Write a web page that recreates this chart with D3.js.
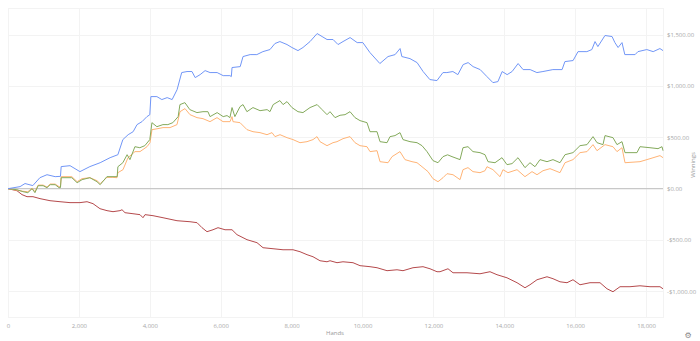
<!DOCTYPE html>
<html>
<head>
<meta charset="utf-8">
<script src="https://cdn.jsdelivr.net/npm/d3@7"></script>
<style>
  body { margin: 0; background: #fff; }
  svg { display: block; font-family: "Open Sans", "Noto Sans", sans-serif; }
</style>
</head>
<body>
<div id="chart"></div>
<script>
var width = 700,
    height = 341;

// hands played -> cumulative winnings ($)
var allIn = [
  [0,0],[340,20],[480,50],[700,30],[900,107],[1100,136],[1330,117],[1480,120],[1500,215],[1750,224],
  [2030,166],[2310,215],[2600,253],[2880,302],[3100,331],[3240,478],[3390,526],[3530,555],[3640,624],
  [3780,653],[3920,702],[4000,720],[4030,897],[4200,897],[4340,868],[4490,887],[4630,868],[4770,965],
  [4900,1131],[5050,1141],[5190,1141],[5280,1082],[5420,1111],[5560,1150],[5700,1131],[5900,1131],
  [6070,1101],[6260,1101],[6300,1092],[6320,1180],[6550,1189],[6630,1287],[6830,1306],[7020,1306],
  [7190,1335],[7390,1355],[7530,1414],[7670,1433],[7870,1404],[8010,1375],[8180,1345],[8320,1375],
  [8520,1433],[8720,1511],[8860,1482],[9000,1453],[9170,1453],[9310,1404],[9450,1433],[9650,1472],
  [9850,1423],[10010,1423],[10210,1326],[10490,1219],[10720,1287],[10920,1306],[11060,1365],[11110,1287],
  [11340,1267],[11540,1228],[11710,1141],[11900,1063],[12100,1053],[12270,1131],[12380,1131],[12550,1141],
  [12690,1111],[12840,1209],[12980,1228],[13120,1189],[13320,1160],[13510,1092],[13680,1033],[13820,1043],
  [13940,1141],[14080,1111],[14220,1141],[14390,1219],[14530,1160],[14730,1160],[14920,1131],[15090,1141],
  [15370,1160],[15630,1160],[15710,1238],[15940,1248],[16080,1335],[16330,1335],[16470,1355],[16560,1433],
  [16640,1384],[16840,1492],[17040,1482],[17120,1423],[17210,1375],[17320,1423],[17400,1306],[17690,1306],
  [17770,1335],[18020,1355],[18200,1335],[18390,1365],[18477,1345]
];

var net = [
  [0,0],[250,-10],[420,-29],[560,-39],[680,0],[760,-39],[850,29],[990,29],[1100,10],[1190,39],
  [1330,39],[1440,10],[1480,10],[1500,107],[1800,107],[1950,58],[2090,88],[2310,107],[2510,68],[2600,39],
  [2790,117],[3080,117],[3100,214],[3240,253],[3360,331],[3440,283],[3580,409],[3720,399],[3860,419],
  [4000,478],[4060,643],[4200,604],[4370,624],[4510,624],[4650,643],[4800,702],[4850,819],[4990,838],
  [5130,770],[5330,741],[5500,750],[5640,750],[5700,702],[5900,741],[6070,702],[6180,712],[6260,692],
  [6320,790],[6400,702],[6545,799],[6630,819],[6740,750],[6910,790],[7110,760],[7310,770],[7390,750],
  [7480,819],[7670,858],[7760,819],[7870,848],[8010,790],[8180,750],[8320,741],[8520,790],[8720,819],
  [8860,770],[9000,721],[9084,750],[9225,692],[9366,715],[9507,721],[9648,750],[9789,692],[9930,663],
  [10127,643],[10212,555],[10410,555],[10494,458],[10692,448],[10776,507],[10917,517],[11058,546],
  [11143,478],[11340,458],[11538,448],[11679,419],[11820,361],[11989,273],[12130,253],[12271,312],
  [12400,330],[12525,312],[12751,283],[12835,399],[12976,409],[13117,361],[13315,351],[13456,331],
  [13541,263],[13738,253],[13935,302],[14076,234],[14218,244],[14387,302],[14584,205],[14725,253],
  [14866,214],[15007,283],[15205,263],[15374,283],[15571,253],[15713,331],[15938,351],[16136,419],
  [16333,429],[16503,507],[16615,448],[16784,429],[16841,517],[17066,497],[17179,429],[17320,458],
  [17405,351],[17743,351],[17828,409],[18110,399],[18336,390],[18449,409],[18477,370]
];

var showdown = [
  [0,0],[250,-15],[420,-25],[560,-30],[680,5],[760,-30],[850,35],[990,35],[1100,15],[1190,45],
  [1330,45],[1440,20],[1480,20],[1500,117],[1800,117],[1950,68],[2090,98],[2310,107],[2510,78],[2600,49],
  [2790,110],[2960,110],[3075,107],[3100,156],[3244,185],[3385,302],[3583,361],[3724,361],[3921,409],
  [4006,448],[4062,575],[4231,585],[4373,595],[4570,595],[4767,624],[4852,750],[4993,780],[5134,721],
  [5332,692],[5501,682],[5698,653],[5896,692],[6065,653],[6263,653],[6319,702],[6347,653],[6545,643],
  [6742,575],[6911,555],[7109,546],[7306,526],[7448,546],[7532,507],[7673,526],[7871,497],[8040,478],
  [8237,448],[8435,458],[8604,478],[8717,507],[8801,458],[8999,419],[9168,448],[9281,458],[9450,487],
  [9648,507],[9789,448],[9930,419],[10127,409],[10212,361],[10410,370],[10494,263],[10720,253],
  [10833,312],[11058,361],[11199,283],[11396,263],[11538,253],[11679,214],[11848,166],[11989,97],
  [12130,68],[12271,107],[12384,146],[12553,136],[12751,88],[12835,185],[12976,205],[13117,166],
  [13315,156],[13456,175],[13512,214],[13681,185],[13879,117],[13963,185],[14104,156],[14359,185],
  [14584,117],[14782,166],[14923,136],[15092,175],[15290,195],[15571,156],[15713,253],[15938,283],
  [16136,351],[16333,361],[16503,429],[16615,370],[16841,429],[17066,409],[17179,361],[17320,399],
  [17405,253],[17828,263],[18110,292],[18392,322],[18477,302]
];

var nonShowdown = [
  [0,0],[254,-20],[395,-58],[536,-78],[705,-78],[903,-97],[1185,-117],[1467,-127],[1749,-136],
  [2031,-136],[2229,-127],[2398,-146],[2595,-195],[2793,-214],[2962,-224],[3160,-214],[3216,-205],
  [3301,-234],[3526,-244],[3724,-253],[3808,-283],[3865,-253],[4090,-263],[4373,-283],[4767,-312],
  [5134,-322],[5332,-331],[5473,-380],[5614,-419],[5783,-400],[5924,-380],[6122,-400],[6319,-400],
  [6460,-448],[6742,-497],[7024,-526],[7194,-575],[7476,-585],[7758,-595],[8040,-595],[8237,-614],
  [8435,-643],[8604,-663],[8801,-702],[8999,-712],[9084,-702],[9281,-721],[9450,-712],[9732,-721],
  [9930,-750],[10212,-760],[10410,-770],[10692,-799],[10974,-790],[11143,-799],[11425,-770],
  [11707,-760],[11904,-780],[12102,-809],[12187,-809],[12412,-780],[12553,-819],[12948,-819],
  [13315,-829],[13597,-809],[13794,-838],[14076,-868],[14359,-916],[14584,-965],[14725,-936],
  [14923,-887],[15205,-858],[15374,-877],[15571,-907],[15769,-916],[15938,-887],[16136,-936],
  [16418,-916],[16700,-916],[16897,-975],[17066,-1004],[17264,-955],[17546,-955],[17828,-946],
  [18110,-955],[18392,-955],[18477,-975]
];

var xTicks = [0, 2000, 4000, 6000, 8000, 10000, 12000, 14000, 16000, 18000];
var yTicks = [-1000, -500, 0, 500, 1000, 1500];

var series = [
  {name: "non-showdown", data: nonShowdown, color: "#b54a4c"},
  {name: "showdown", data: showdown, color: "#ffb476"},
  {name: "net", data: net, color: "#84aa5c"},
  {name: "all-in adj", data: allIn, color: "#7196f7"}
];

var x = d3.scaleLinear().domain([0, 18477]).range([8, 663]);
var y = d3.scaleLinear().domain([-1250, 1760]).range([317, 8]);

var svg = d3.select("#chart").append("svg")
    .attr("width", width)
    .attr("height", height);

// grid
var grid = svg.append("g").attr("stroke", "#f3f3f3").attr("stroke-width", 1);
grid.selectAll("line.v")
    .data(xTicks)
    .enter().append("line")
    .attr("x1", d => Math.round(x(d)) + 0.5).attr("x2", d => Math.round(x(d)) + 0.5)
    .attr("y1", y.range()[1]).attr("y2", y.range()[0]);
grid.selectAll("line.h")
    .data(yTicks.filter(d => d !== 0))
    .enter().append("line")
    .attr("x1", x.range()[0]).attr("x2", x.range()[1])
    .attr("y1", d => Math.round(y(d)) + 0.5).attr("y2", d => Math.round(y(d)) + 0.5);
grid.append("rect")
    .attr("x", 8.5).attr("y", 8.5)
    .attr("width", 655).attr("height", 309)
    .attr("fill", "none");

// zero line
svg.append("line")
    .attr("x1", x.range()[0]).attr("x2", x.range()[1])
    .attr("y1", y(0)).attr("y2", y(0))
    .attr("stroke", "#c8c8c8")
    .attr("stroke-width", 1.3);

var line = d3.line()
    .x(d => x(d[0]))
    .y(d => y(d[1]));

svg.append("g").selectAll("path")
    .data(series)
    .enter().append("path")
    .attr("d", d => line(d.data))
    .attr("fill", "none")
    .attr("stroke", d => d.color)
    .attr("stroke-width", 1)
    .attr("stroke-linejoin", "round");

// axes
var money = function(v) {
    return (v < 0 ? "-" : "") + "$" + d3.format(",.2f")(Math.abs(v));
};

var xAxis = svg.append("g")
    .attr("transform", "translate(0,321)")
    .call(d3.axisBottom(x).tickValues(xTicks).tickFormat(d3.format(",")).tickSize(0));
xAxis.select(".domain").remove();

var yAxis = svg.append("g")
    .attr("transform", "translate(666,0)")
    .call(d3.axisRight(y).tickValues(yTicks).tickFormat(money).tickSize(0));
yAxis.select(".domain").remove();

svg.selectAll(".tick text")
    .attr("fill", "#a8a8a8")
    .style("font-size", "6px")
    .style("font-family", "'Open Sans', sans-serif");
yAxis.selectAll(".tick text").attr("x", 1);

svg.append("text")
    .attr("x", 335).attr("y", 335)
    .attr("text-anchor", "middle")
    .attr("fill", "#999")
    .style("font-size", "6px")
    .text("Hands");

svg.append("text")
    .attr("transform", "translate(695,165) rotate(-90)")
    .attr("text-anchor", "middle")
    .attr("fill", "#999")
    .style("font-size", "6px")
    .text("Winnings");

// settings cog
svg.append("text")
    .attr("x", 688).attr("y", 338)
    .attr("text-anchor", "middle")
    .attr("fill", "#888")
    .style("font-size", "8px")
    .style("font-family", "DejaVu Sans")
    .text("\u2699");
</script>
</body>
</html>
